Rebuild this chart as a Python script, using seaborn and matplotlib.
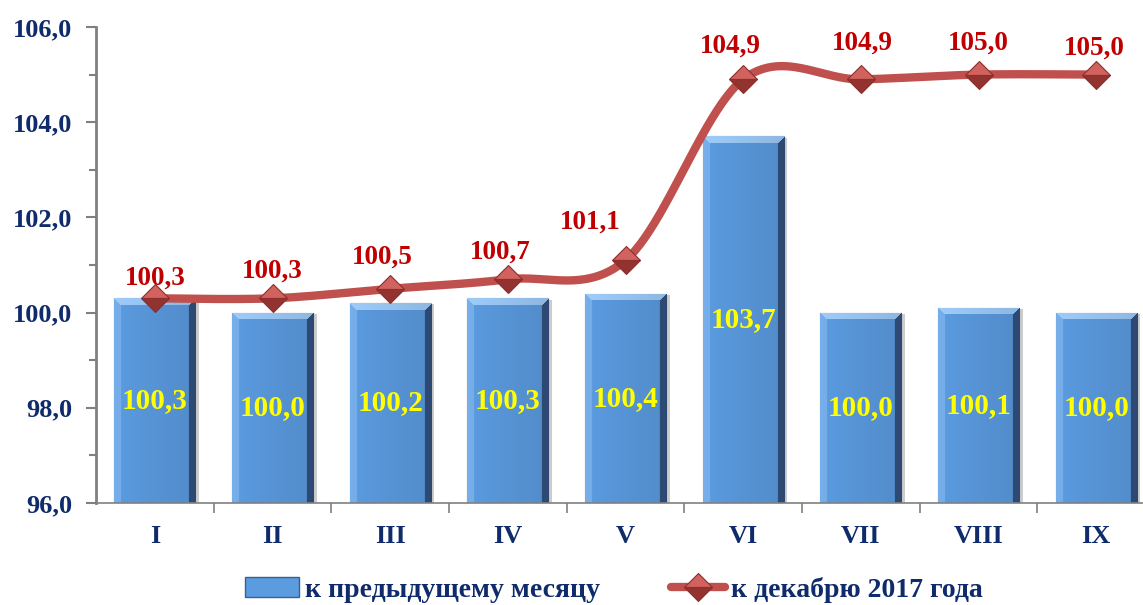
import numpy as np
import matplotlib
matplotlib.use("Agg")
import matplotlib.pyplot as plt
import seaborn as sns
from matplotlib.lines import Line2D
from matplotlib.patches import Patch

months = ["I", "II", "III", "IV", "V", "VI", "VII", "VIII", "IX"]
to_prev_month = [100.3, 100.0, 100.2, 100.3, 100.4, 103.7, 100.0, 100.1, 100.0]
to_dec_2017 = [100.3, 100.3, 100.5, 100.7, 101.1, 104.9, 104.9, 105.0, 105.0]
y_ticks = [96.0, 98.0, 100.0, 102.0, 104.0, 106.0]

# manual nudges of the red labels (pixels), as placed in the original
label_dx = [0, 0, -8, -8, -35, -13, 2, 0, -2]
label_dy = [20, 27, 32, 27, 38, 33, 36, 31, 26]

navy = "#0F2B6B"
dark_red = "#C00000"
line_red = "#C0504D"
bar_blue = "#5B9BE0"

PX_Y = 47.6    # pixels per y unit


def fmt(v):
    return f"{v:.1f}".replace(".", ",")


def smooth_curve(xs, ys, n=50):
    # excel-like smoothed line: bezier segments with tangents (P[i+1]-P[i-1])/6
    p = np.column_stack([np.asarray(xs, float), np.asarray(ys, float)])
    m = len(p)
    out = []
    t = np.linspace(0, 1, n)[:, None]
    for i in range(m - 1):
        p0 = p[i - 1] if i > 0 else p[i]
        p1, p2 = p[i], p[i + 1]
        p3 = p[i + 2] if i + 2 < m else p[i + 1]
        c1 = p1 + (p2 - p0) / 6
        c2 = p2 - (p3 - p1) / 6
        seg = (1 - t) ** 3 * p1 + 3 * (1 - t) ** 2 * t * c1 + 3 * (1 - t) * t ** 2 * c2 + t ** 3 * p2
        out.append(seg)
    out = np.vstack(out)
    return out[:, 0], out[:, 1]


def bevel_image(w, h):
    base = np.array(matplotlib.colors.to_rgb(bar_blue))
    img = np.ones((h, w, 3)) * base
    b = 7
    yy, xx = np.mgrid[0:h, 0:w]
    light = np.array([0.62, 0.80, 0.98])
    dark = np.array([0.20, 0.32, 0.50])
    top = (yy < b) & (xx >= yy) & (w - 1 - xx >= yy)
    left = (xx < b) & ~top
    right = (w - 1 - xx < b) & ~top
    img[top] = light
    img[left] = base * 0.6 + light * 0.4
    img[right] = dark
    shade = 1.0 - 0.10 * (xx / max(w - 1, 1))
    img = img * shade[..., None]
    return np.clip(img, 0, 1)


sns.set_style("white")
plt.rcParams["font.family"] = ["Liberation Serif", "DejaVu Serif"]

fig = plt.figure(figsize=(11.43, 6.05), dpi=100)
ax = fig.add_axes([0.084, 0.1686, 0.9265, 0.7868])

sns.barplot(x=months, y=to_prev_month, color=bar_blue, saturation=1,
            width=0.69, edgecolor="#3C5F8C", linewidth=0.8, ax=ax, zorder=2)
ax.set_ylim(96, 106)
ax.set_xlim(-0.5, 8.5)

for bar, val in zip(ax.patches, to_prev_month):
    x0 = bar.get_x()
    w = bar.get_width()
    ax.add_patch(plt.Rectangle((x0 + 0.03, 96), w, val - 96 - 0.03,
                               color="#9A9A9A", alpha=0.5, zorder=1, lw=0))
    hpx = int((val - 96) * PX_Y) + 1
    img = bevel_image(81, max(hpx, 2))
    im = ax.imshow(img, extent=[x0, x0 + w, 96, val], aspect="auto",
                   zorder=2.5, interpolation="bilinear")
    im.set_clip_path(bar)
    ax.text(x0 + w / 2, (96 + val) / 2, fmt(val), ha="center", va="center",
            color="#FFFF00", fontsize=21, fontweight="bold", zorder=5)

xi = np.arange(len(months))
cx, cy = smooth_curve(xi, to_dec_2017)
ax.plot(cx, cy, color=line_red, lw=6, zorder=3, solid_capstyle="round")
ax.plot(xi, to_dec_2017, linestyle="none", marker="D", markersize=14.5,
        fillstyle="top", markerfacecolor="#D2625E", markerfacecoloralt="#933330",
        markeredgecolor="#8C2F2D", markeredgewidth=0.8, zorder=4)
for x, v, dx, dy in zip(xi, to_dec_2017, label_dx, label_dy):
    ax.annotate(fmt(v), (x, v), xytext=(dx * 0.72, dy * 0.72),
                textcoords="offset points", ha="center", va="center",
                color=dark_red, fontsize=19.5, fontweight="bold", zorder=5)

ax.set_yticks(y_ticks)
ax.set_yticklabels([fmt(v) for v in y_ticks], color=navy, fontsize=19,
                   fontweight="bold")
ax.set_yticks(np.arange(97, 106, 2), minor=True)
ax.set_xticks(xi)
ax.set_xticklabels(months, fontsize=19, fontweight="bold", color=navy)
ax.tick_params(axis="x", which="major", bottom=False, length=0, pad=16)
ax.set_xticks(np.arange(0.5, 8.5, 1), minor=True)
ax.tick_params(axis="x", which="minor", bottom=True, length=7, color="#808080",
               width=1.2, direction="out")
ax.tick_params(axis="y", which="major", left=True, length=7, color="#808080",
               width=1.5, direction="out", pad=10)
ax.tick_params(axis="y", which="minor", left=True, length=5, color="#808080",
               width=1.5, direction="out")

for s in ["top", "right"]:
    ax.spines[s].set_visible(False)
ax.spines["left"].set_color("#808080")
ax.spines["left"].set_linewidth(2)
ax.spines["bottom"].set_color("#808080")
ax.spines["bottom"].set_linewidth(1.2)
ax.set_xlabel("")
ax.set_ylabel("")
ax.grid(False)

handles = [
    Patch(facecolor=bar_blue, edgecolor="#3C5F8C", linewidth=1),
    Line2D([0], [0], color=line_red, lw=6, marker="D", markersize=14.5,
           fillstyle="top", markerfacecolor="#D2625E", markerfacecoloralt="#933330",
           markeredgecolor="#8C2F2D", markeredgewidth=0.8),
]
labels = ["к предыдущему месяцу", "к декабрю 2017 года"]
leg = fig.legend(handles, labels, loc="center", bbox_to_anchor=(0.537, 0.025),
                 ncol=2, frameon=False, handlelength=1.95, handletextpad=0.2,
                 columnspacing=2.55,
                 prop={"family": "Liberation Serif", "weight": "bold", "size": 20})
for t in leg.get_texts():
    t.set_color(navy)

fig.savefig("out.png", dpi=100)
